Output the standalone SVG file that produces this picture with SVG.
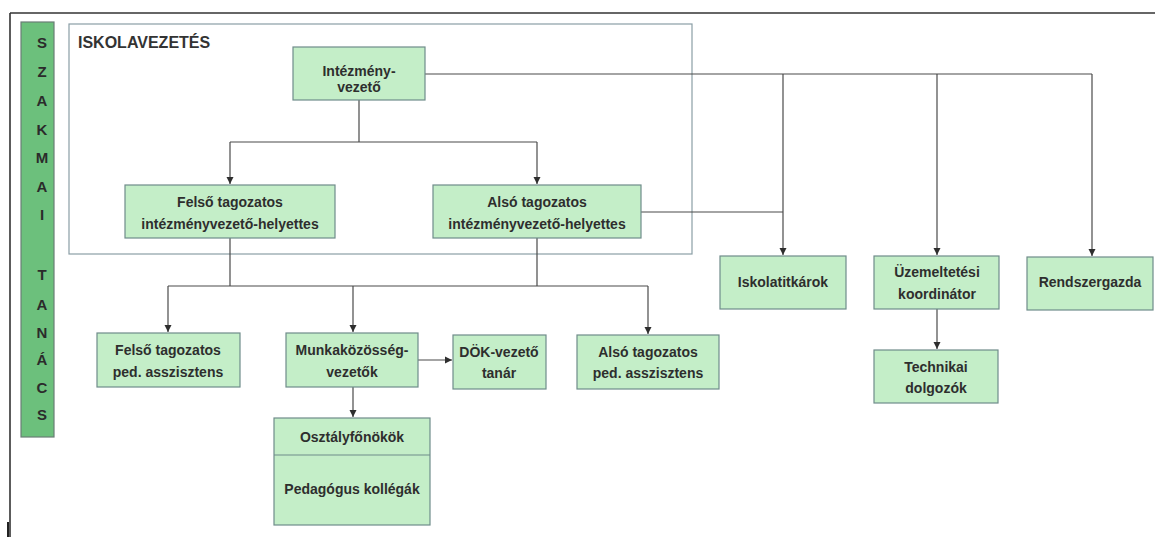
<svg xmlns="http://www.w3.org/2000/svg" width="1155" height="537" viewBox="0 0 1155 537">
<style>
.box{fill:#c4eec8;stroke:#6f8c8a;stroke-width:1.2}
.t{font-family:"Liberation Sans",Arial,sans-serif;font-weight:bold;font-size:14px;fill:#2e2e2e;text-anchor:middle}
.ln{fill:none;stroke:#4a4a4a;stroke-width:1.2}
.lt{font-family:"Liberation Sans",Arial,sans-serif;font-weight:bold;font-size:15px;fill:#2b2b2b;text-anchor:middle}
</style>
<defs>
<marker id="ah" markerWidth="8" markerHeight="8" refX="7" refY="4" orient="auto" markerUnits="userSpaceOnUse">
<path d="M0,0.5 L7,4 L0,7.5 Z" fill="#2e2e2e"/>
</marker>
</defs>
<rect width="1155" height="537" fill="#ffffff"/>
<g id="frame">
<line x1="10" y1="13" x2="1155" y2="13" stroke="#333" stroke-width="1.6"/>
<line x1="10" y1="13" x2="10" y2="537" stroke="#333" stroke-width="1.6"/>
<line x1="8" y1="522" x2="8" y2="537" stroke="#222" stroke-width="2"/>
</g>
<g id="szakmai-tanacs">
<rect x="21" y="22" width="33" height="415" fill="#6cc07c" stroke="#6a7d76" stroke-width="1.2"/>
<text class="lt" x="42" y="48">S</text>
<text class="lt" x="42" y="77">Z</text>
<text class="lt" x="42" y="106">A</text>
<text class="lt" x="42" y="135">K</text>
<text class="lt" x="42" y="163">M</text>
<text class="lt" x="42" y="192">A</text>
<text class="lt" x="42" y="220">I</text>
<text class="lt" x="42" y="280">T</text>
<text class="lt" x="42" y="310">A</text>
<text class="lt" x="42" y="338">N</text>
<text class="lt" x="42" y="365">Á</text>
<text class="lt" x="42" y="393">C</text>
<text class="lt" x="42" y="420">S</text>
</g>
<g id="iskolavezetes">
<rect x="69" y="24" width="623" height="230" fill="none" stroke="#8a9ea6" stroke-width="1.2"/>
<text x="78" y="48" font-family="'Liberation Sans',Arial,sans-serif" font-weight="bold" font-size="16" fill="#333">ISKOLAVEZETÉS</text>
</g>
<g id="connectors">
<path class="ln" d="M359,100 V142 M230,142 H537"/>
<path class="ln" d="M230,142 V184" marker-end="url(#ah)"/>
<path class="ln" d="M537,142 V184" marker-end="url(#ah)"/>
<path class="ln" d="M425,74 H1092"/>
<path class="ln" d="M783,74 V255" marker-end="url(#ah)"/>
<path class="ln" d="M937,74 V255" marker-end="url(#ah)"/>
<path class="ln" d="M1092,74 V256" marker-end="url(#ah)"/>
<path class="ln" d="M641,212 H783"/>
<path class="ln" d="M937,309 V349" marker-end="url(#ah)"/>
<path class="ln" d="M230,238 V286 M537,238 V286 M168,286 H648"/>
<path class="ln" d="M168,286 V332" marker-end="url(#ah)"/>
<path class="ln" d="M353,286 V332" stroke-width="2" stroke="#333" marker-end="url(#ah)"/>
<path class="ln" d="M648,286 V334" marker-end="url(#ah)"/>
<path class="ln" d="M418,360 H452" marker-end="url(#ah)"/>
<path class="ln" d="M353,387 V417" marker-end="url(#ah)"/>
</g>
<g id="intezmenyvezeto">
<rect class="box" x="293" y="47" width="132" height="53"/>
<text class="t" x="359" y="76">Intézmény-</text>
<text class="t" x="359" y="92">vezető</text>
</g>
<g id="felso-helyettes">
<rect class="box" x="125" y="185" width="210" height="53"/>
<text class="t" x="230" y="207">Felső tagozatos</text>
<text class="t" x="230" y="229">intézményvezető-helyettes</text>
</g>
<g id="also-helyettes">
<rect class="box" x="433" y="185" width="208" height="53"/>
<text class="t" x="537" y="207">Alsó tagozatos</text>
<text class="t" x="537" y="229">intézményvezető-helyettes</text>
</g>
<g id="iskolatitkarok">
<rect class="box" x="720" y="256" width="126" height="53"/>
<text class="t" x="783" y="287">Iskolatitkárok</text>
</g>
<g id="uzemeltetesi">
<rect class="box" x="874" y="256" width="125" height="53"/>
<text class="t" x="937" y="277">Üzemeltetési</text>
<text class="t" x="937" y="299">koordinátor</text>
</g>
<g id="rendszergazda">
<rect class="box" x="1027" y="257" width="126" height="53"/>
<text class="t" x="1090" y="287">Rendszergazda</text>
</g>
<g id="technikai">
<rect class="box" x="874" y="350" width="124" height="53"/>
<text class="t" x="936" y="372">Technikai</text>
<text class="t" x="936" y="393">dolgozók</text>
</g>
<g id="felso-asszisztens">
<rect class="box" x="97" y="333" width="143" height="54"/>
<text class="t" x="168" y="355">Felső tagozatos</text>
<text class="t" x="168" y="377">ped. asszisztens</text>
</g>
<g id="munkakozosseg">
<rect class="box" x="286" y="333" width="132" height="54"/>
<text class="t" x="352" y="355">Munkaközösség-</text>
<text class="t" x="352" y="377">vezetők</text>
</g>
<g id="dok">
<rect class="box" x="453" y="335" width="93" height="54"/>
<text class="t" x="499" y="357">DÖK-vezető</text>
<text class="t" x="499" y="378">tanár</text>
</g>
<g id="also-asszisztens">
<rect class="box" x="577" y="335" width="142" height="54"/>
<text class="t" x="648" y="357">Alsó tagozatos</text>
<text class="t" x="648" y="378">ped. asszisztens</text>
</g>
<g id="osztalyfonokok">
<rect class="box" x="274" y="418" width="156" height="107"/>
<line x1="274" y1="455" x2="430" y2="455" stroke="#6f8c8a" stroke-width="1.2"/>
<text class="t" x="352" y="442">Osztályfőnökök</text>
<text class="t" x="352" y="494">Pedagógus kollégák</text>
</g>
</svg>
